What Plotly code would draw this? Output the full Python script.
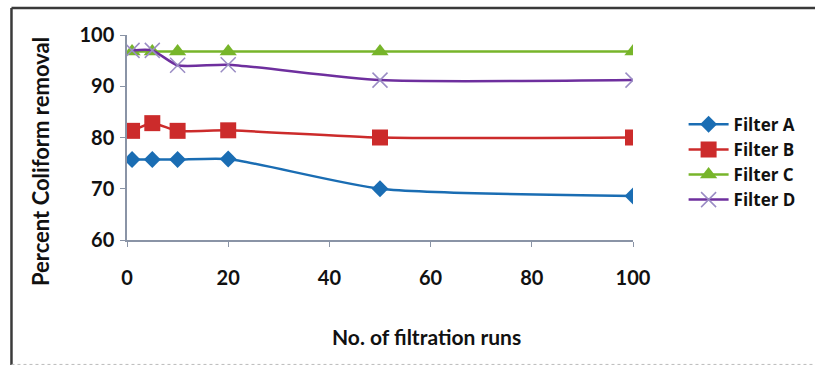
import plotly.graph_objects as go

runs = [1, 5, 10, 20, 50, 100]
filter_a = [75.7, 75.7, 75.7, 75.8, 70.0, 68.6]
filter_b = [81.3, 82.8, 81.3, 81.4, 80.0, 80.0]
filter_c = [96.8, 96.8, 96.8, 96.8, 96.8, 96.8]
filter_d = [97.0, 97.0, 94.1, 94.2, 91.2, 91.2]

names = ["Filter A", "Filter B", "Filter C", "Filter D"]
series = [filter_a, filter_b, filter_c, filter_d]
line_colors = ["#1A6DB3", "#CC2B2B", "#77B52A", "#6E2F9E"]
marker_colors = ["#1A6DB3", "#CC2B2B", "#77B52A", "#9A8CC4"]
symbols = ["diamond", "square", "triangle-up", "x-thin-open"]
sizes = [13, 16, 15, 15]

x_title = "No. of filtration runs"
y_title = "Percent Coliform removal"

fig = go.Figure()
for n, s, lc, mc, sym, sz in zip(names, series, line_colors, marker_colors, symbols, sizes):
    fig.add_trace(go.Scatter(
        x=runs, y=s, name=n, mode="lines+markers",
        line=dict(color=lc, width=2.5, shape="spline", smoothing=0.6),
        marker=dict(symbol=sym, size=sz, color=mc,
                    line=dict(color=mc, width=1.5 if sym.startswith("x") else 0)),
    ))

tick_font = dict(family="Lato", size=20, color="#111111", weight="bold")
fig.update_layout(
    width=815, height=366,
    margin=dict(l=127, r=182, t=35, b=126),
    paper_bgcolor="white", plot_bgcolor="white",
    font=dict(family="Lato", color="#111111"),
    showlegend=True,
    legend=dict(x=1.1, y=0.65, xanchor="left", yanchor="top",
                font=dict(family="Open Sans", size=17, color="#111111", weight="bold"),
                itemwidth=40, bgcolor="rgba(0,0,0,0)"),
    xaxis=dict(range=[0, 100], tickvals=[0, 20, 40, 60, 80, 100],
               showgrid=False, zeroline=False, showline=True,
               linecolor="#8A94A6", linewidth=1.5, ticks="outside",
               tickcolor="#8A94A6", ticklen=5, tickfont=tick_font,
               ticklabelstandoff=14),
    yaxis=dict(range=[60, 100], tickvals=[60, 70, 80, 90, 100],
               showgrid=False, zeroline=False, showline=True,
               linecolor="#8A94A6", linewidth=1.5, ticks="outside",
               tickcolor="#8A94A6", ticklen=5, tickfont=tick_font,
               ticklabelstandoff=2),
)

# axis titles
fig.add_annotation(text=y_title, xref="paper", yref="paper", x=-0.172, y=0.385,
                   xanchor="center", yanchor="middle", textangle=-90, showarrow=False,
                   font=dict(family="Lato", size=22, color="#111111", weight="bold"))
fig.add_annotation(text=x_title, xref="paper", yref="paper", x=0.591, y=-0.47,
                   xanchor="center", yanchor="middle", showarrow=False,
                   font=dict(family="Lato", size=21, color="#111111", weight="bold"))

# frame lines around the chart
fig.add_shape(type="line", xref="paper", yref="paper", x0=-0.2283, x1=1.37, y0=1.1317, y1=1.1317,
              line=dict(color="#3A3A3A", width=2.5))
fig.add_shape(type="line", xref="paper", yref="paper", x0=-0.2283, x1=-0.2283, y0=1.1317, y1=-0.61,
              line=dict(color="#3A3A3A", width=2.5))
fig.add_shape(type="line", xref="paper", yref="paper", x0=-0.2283, x1=1.37, y0=-0.607, y1=-0.607,
              line=dict(color="#BBBBBB", width=1, dash="dot"))

fig.write_html("out.html")
